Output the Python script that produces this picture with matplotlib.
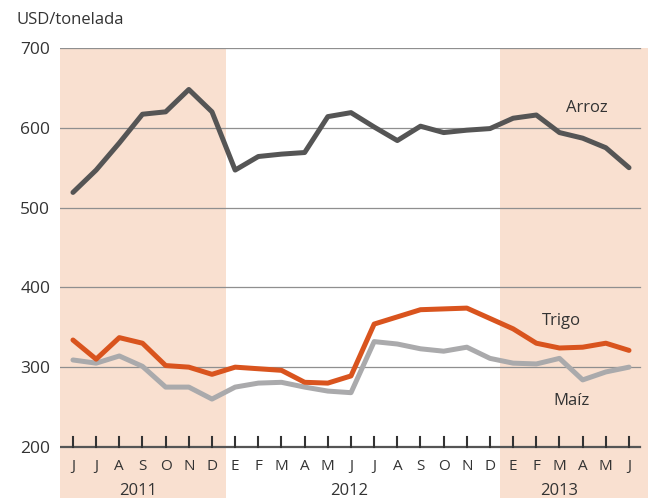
import matplotlib
matplotlib.use('Agg')
import matplotlib.pyplot as plt
import numpy as np

# monthly prices, June 2011 - June 2013 (USD/tonelada)
months = ['J', 'J', 'A', 'S', 'O', 'N', 'D',
          'E', 'F', 'M', 'A', 'M', 'J', 'J', 'A', 'S', 'O', 'N', 'D',
          'E', 'F', 'M', 'A', 'M', 'J']
years = ['2011', '2012', '2013']
year_centers = [2.8, 11.9, 21.0]

arroz = [519, 547, 581, 617, 620, 648, 620, 547, 564, 567, 569, 614, 619,
         601, 584, 602, 594, 597, 599, 612, 616, 594, 587, 575, 550]
trigo = [334, 310, 337, 330, 302, 300, 291, 300, 298, 296, 281, 280, 289,
         354, 363, 372, 373, 374, 361, 348, 330, 324, 325, 330, 321]
maiz = [309, 305, 314, 301, 275, 275, 260, 275, 280, 281, 275, 270, 268,
        332, 329, 323, 320, 325, 311, 305, 304, 311, 284, 294, 300]

plt.rcParams['font.family'] = ['Open Sans', 'DejaVu Sans']

fig = plt.figure(figsize=(6.57, 4.98), dpi=100)
ax = fig.add_axes([60 / 657, 0, 588 / 657, 450 / 498])

x = np.arange(len(months))
ax.set_xlim(-0.56, 24.82)
ax.set_ylim(136, 700)

shade = '#f9e0d0'
ax.axvspan(-0.56, 6.62, color=shade, lw=0, zorder=0)
ax.axvspan(18.44, 24.82, color=shade, lw=0, zorder=0)

# grid lines
for v in [300, 400, 500, 600, 700]:
    ax.plot([-0.56, 24.47], [v, v], color='#8f8f8f', lw=0.9, zorder=1)
ax.plot([-0.56, 24.47], [200, 200], color='#555555', lw=1.6, zorder=3)
for xi in x:
    ax.plot([xi, xi], [200, 212], color='#333333', lw=1.5, zorder=3)

ax.plot(x, maiz, color='#aaaaac', lw=3.6, solid_joinstyle='round', solid_capstyle='round', zorder=4)
ax.plot(x, trigo, color='#d9541e', lw=3.6, solid_joinstyle='round', solid_capstyle='round', zorder=5)
ax.plot(x, arroz, color='#555555', lw=3.6, solid_joinstyle='round', solid_capstyle='round', zorder=5)

ax.text(22.2, 625, 'Arroz', fontsize=12, color='#333333', ha='center', va='center')
ax.text(21.1, 358, 'Trigo', fontsize=12, color='#333333', ha='center', va='center')
ax.text(21.5, 258, 'Maíz', fontsize=12, color='#333333', ha='center', va='center')

for xi, m in zip(x, months):
    ax.text(xi, 176, m, fontsize=11, color='#333333', ha='center', va='center')
for xc, yr in zip(year_centers, years):
    ax.text(xc, 145, yr, fontsize=12, color='#333333', ha='center', va='center')

ax.set_yticks([200, 300, 400, 500, 600, 700])
ax.tick_params(axis='y', length=0, labelsize=12.5, labelcolor='#333333', pad=7)
ax.set_xticks([])
for s in ax.spines.values():
    s.set_visible(False)

fig.text(17 / 657, 1 - 20 / 498, 'USD/tonelada', fontsize=12, color='#333333',
         ha='left', va='center')

fig.savefig('out.png', dpi=100)
